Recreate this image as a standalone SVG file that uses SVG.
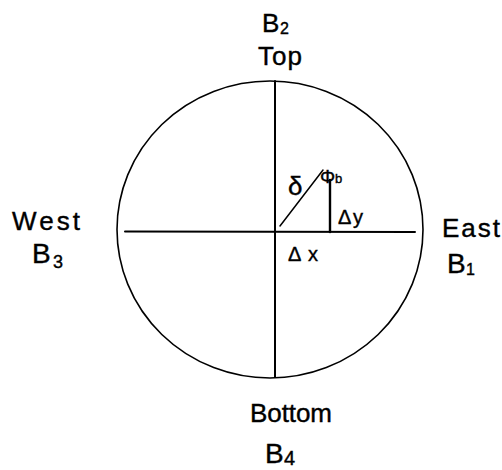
<svg xmlns="http://www.w3.org/2000/svg" width="502" height="470" viewBox="0 0 502 470">
<style>
.ln{stroke:#000;fill:none;stroke-linecap:round}
.t{font-family:"Liberation Sans",Arial,sans-serif;fill:#000;stroke:#000;stroke-width:0.4}
</style>
<rect width="502" height="470" fill="#fff"/>
<g id="circle">
<ellipse class="ln" cx="270" cy="229.5" rx="153" ry="148.5" stroke-width="1.6"/>
</g>
<g id="connectors">
<line class="ln" x1="275" y1="81" x2="275" y2="377" stroke-width="2"/>
<line class="ln" x1="125" y1="231.5" x2="415" y2="232" stroke-width="2"/>
<line class="ln" x1="280" y1="226" x2="323" y2="170" stroke-width="1.5"/>
<line class="ln" x1="330" y1="180" x2="330" y2="232" stroke-width="2.4"/>
</g>
<g id="top">
<text class="t" x="262" y="32" font-size="26">B</text>
<text class="t" x="280" y="34" font-size="16">2</text>
<text class="t" x="258" y="65" font-size="26" textLength="44">Top</text>
</g>
<g id="west">
<text class="t" x="12" y="230" font-size="26" textLength="68">West</text>
<text class="t" x="32" y="263" font-size="28">B</text>
<text class="t" x="53" y="268" font-size="18">3</text>
</g>
<g id="east">
<text class="t" x="442" y="237" font-size="26" textLength="58">East</text>
<text class="t" x="447" y="273" font-size="28">B</text>
<text class="t" x="466" y="275" font-size="16">1</text>
</g>
<g id="bottom">
<text class="t" x="250" y="422" font-size="26" textLength="82">Bottom</text>
<text class="t" x="265" y="463" font-size="28">B</text>
<text class="t" x="284" y="465" font-size="20">4</text>
</g>
<g id="labels">
<text class="t" x="288" y="195" font-size="26">δ</text>
<text class="t" x="320" y="183" font-size="19">Φ</text>
<text class="t" x="335" y="183" font-size="13">b</text>
<text class="t" x="338" y="224" font-size="20" textLength="25">Δy</text>
<text class="t" x="288" y="261" font-size="20" textLength="30">Δx</text>
</g>
</svg>
